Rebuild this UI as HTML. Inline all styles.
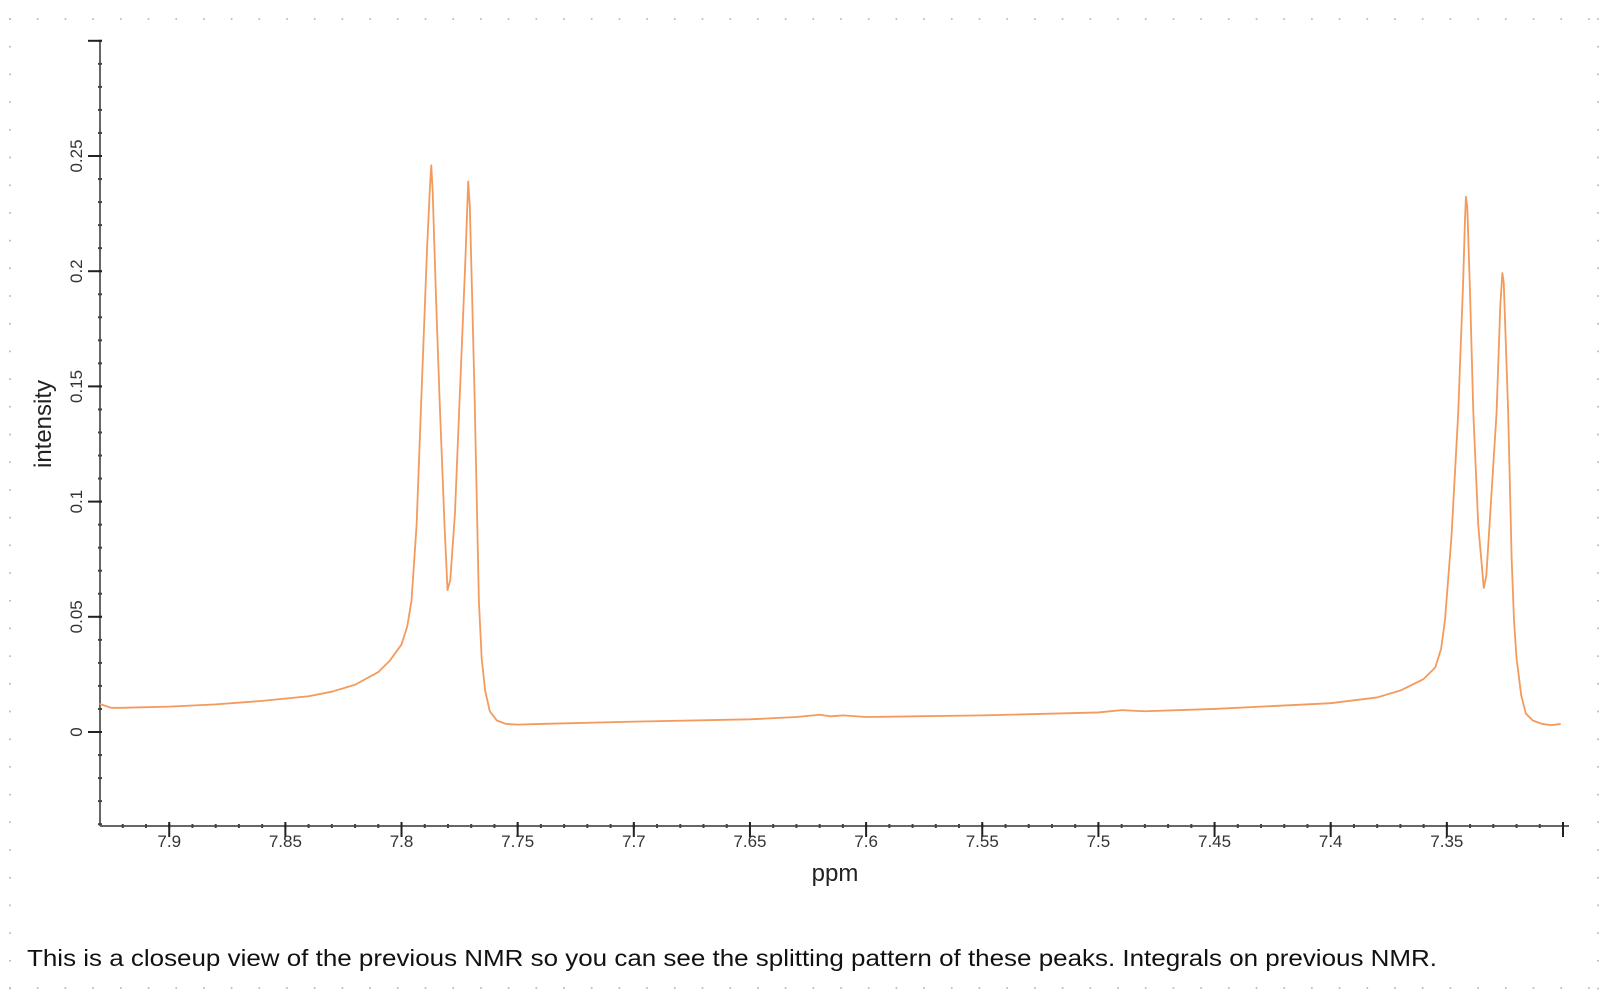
<!DOCTYPE html>
<html><head><meta charset="utf-8"><style>
html,body{margin:0;padding:0;background:#fff;}
svg{display:block;font-family:"Liberation Sans",Arial,sans-serif;}
</style></head><body>
<svg id="chart" width="1600" height="1000" viewBox="0 0 1600 1000">
<g id="dots"></g>
<g id="axes"></g>
<path id="spectrum" fill="none" stroke="#f39a5c" stroke-width="1.8" stroke-linejoin="round"/>
<text x="835" y="881" font-size="24" text-anchor="middle" fill="#222">ppm</text>
<text x="0" y="0" font-size="24" text-anchor="middle" fill="#222" transform="translate(51,424) rotate(-90)">intensity</text>
<text x="27" y="966" font-size="23" fill="#111" textLength="1410" lengthAdjust="spacingAndGlyphs">This is a closeup view of the previous NMR so you can see the splitting pattern of these peaks. Integrals on previous NMR.</text>
</svg>
<script>
const xTicks = [7.9, 7.85, 7.8, 7.75, 7.7, 7.65, 7.6, 7.55, 7.5, 7.45, 7.4, 7.35];
const xTickLabels = ["7.9","7.85","7.8","7.75","7.7","7.65","7.6","7.55","7.5","7.45","7.4","7.35"];
const yTicks = [0, 0.05, 0.1, 0.15, 0.2, 0.25];
const yTickLabels = ["0","0.05","0.1","0.15","0.2","0.25"];
const ppm = [7.93,7.925,7.92,7.90,7.88,7.86,7.84,7.83,7.82,7.81,7.805,7.80,7.7975,7.7957,7.7935,7.7915,7.789,7.7878,7.7872,7.7866,7.7852,7.7836,7.7815,7.7802,7.779,7.777,7.775,7.7725,7.7713,7.7706,7.7695,7.7685,7.7667,7.7655,7.764,7.762,7.759,7.755,7.75,7.74,7.70,7.65,7.63,7.62,7.615,7.61,7.60,7.55,7.50,7.49,7.48,7.45,7.40,7.38,7.37,7.36,7.355,7.3525,7.3508,7.348,7.3451,7.343,7.3422,7.3418,7.3412,7.3400,7.3386,7.3365,7.3341,7.333,7.331,7.3286,7.327,7.3261,7.3255,7.3245,7.3236,7.3221,7.3211,7.320,7.318,7.316,7.313,7.309,7.305,7.301];
const intensity = [0.0122,0.0105,0.0105,0.011,0.012,0.0135,0.0155,0.0175,0.0205,0.026,0.031,0.038,0.046,0.057,0.09,0.144,0.21,0.236,0.246,0.235,0.19,0.144,0.09,0.0616,0.066,0.095,0.144,0.205,0.239,0.228,0.185,0.144,0.057,0.032,0.018,0.009,0.005,0.0035,0.0032,0.0035,0.0045,0.0055,0.0065,0.0075,0.0068,0.0072,0.0065,0.0072,0.0085,0.0095,0.009,0.010,0.0125,0.015,0.018,0.023,0.028,0.036,0.0486,0.085,0.1385,0.195,0.222,0.2323,0.228,0.19,0.1385,0.09,0.0625,0.068,0.1,0.1385,0.185,0.1992,0.195,0.165,0.1385,0.075,0.0486,0.032,0.016,0.008,0.005,0.0035,0.003,0.0035];

const NS='http://www.w3.org/2000/svg';
const X0=100, X1=1563, PPM_L=7.9298, PPM_R=7.30;
const Y0=732, YPX=115.2/0.05;
function sx(p){ return X0 + (PPM_L-p)/(PPM_L-PPM_R)*(X1-X0); }
function sy(v){ return Y0 - v*YPX; }
function mk(tag, attrs, parent){ const e=document.createElementNS(NS,tag); for(const k in attrs) e.setAttribute(k,attrs[k]); parent.appendChild(e); return e; }

// dotted frame
const dots=document.getElementById('dots');
for(let x=10;x<=1600;x+=27.7){ mk('circle',{cx:x,cy:19,r:1,fill:'#bbb'},dots); mk('circle',{cx:x,cy:988,r:1,fill:'#bbb'},dots); }
for(let y=19;y<=990;y+=27.7){ mk('circle',{cx:10,cy:y,r:1,fill:'#bbb'},dots); mk('circle',{cx:1598,cy:y,r:1,fill:'#bbb'},dots); }

const axes=document.getElementById('axes');
const AXY=826, YTOP=40;
// axis lines
const xl=mk('line',{x1:X0,y1:AXY,x2:X1+6,y2:AXY,stroke:'#666','stroke-width':2},axes);


const yl=mk('line',{x1:X0,y1:YTOP,x2:X0,y2:AXY,stroke:'#666','stroke-width':2},axes);


// x minor ticks
for(let p=7.92;p>7.295;p-=0.01){ const x=sx(p); mk('line',{x1:x,y1:AXY-2,x2:x,y2:AXY+2,stroke:'#444','stroke-width':2},axes); }
// x major ticks
xTicks.forEach((t,i)=>{
  const x=sx(t);
  mk('line',{x1:x,y1:AXY-4,x2:x,y2:AXY+11,stroke:'#222','stroke-width':2},axes);
  const tx=mk('text',{x:x,y:AXY+21,'font-size':17,'text-anchor':'middle',fill:'#333'},axes);
  tx.textContent=xTickLabels[i];
  
  
});
// end tick at right
mk('line',{x1:sx(7.30),y1:AXY-4,x2:sx(7.30),y2:AXY+11,stroke:'#222','stroke-width':2},axes);
// y minor ticks
for(let v=-0.04;v<=0.301;v+=0.01){ const y=sy(v); mk('line',{x1:X0-2,y1:y,x2:X0+2,y2:y,stroke:'#444','stroke-width':2},axes); }
// y top tick
mk('line',{x1:X0-12,y1:sy(0.3),x2:X0+2,y2:sy(0.3),stroke:'#222','stroke-width':2},axes);
yTicks.forEach((t,i)=>{
  const y=sy(t);
  mk('line',{x1:X0-12,y1:y,x2:X0+2,y2:y,stroke:'#222','stroke-width':2},axes);
  const tx=mk('text',{x:0,y:0,'font-size':17,'text-anchor':'middle',fill:'#333',transform:'translate(82,'+y+') rotate(-90)'},axes);
  tx.textContent=yTickLabels[i];
  
  
});
// spectrum
let d='';
ppm.forEach((p,i)=>{ d+=(i?'L':'M')+sx(p).toFixed(2)+' '+sy(intensity[i]).toFixed(2)+' '; });
document.getElementById('spectrum').setAttribute('d',d);
</script>
</body></html>
